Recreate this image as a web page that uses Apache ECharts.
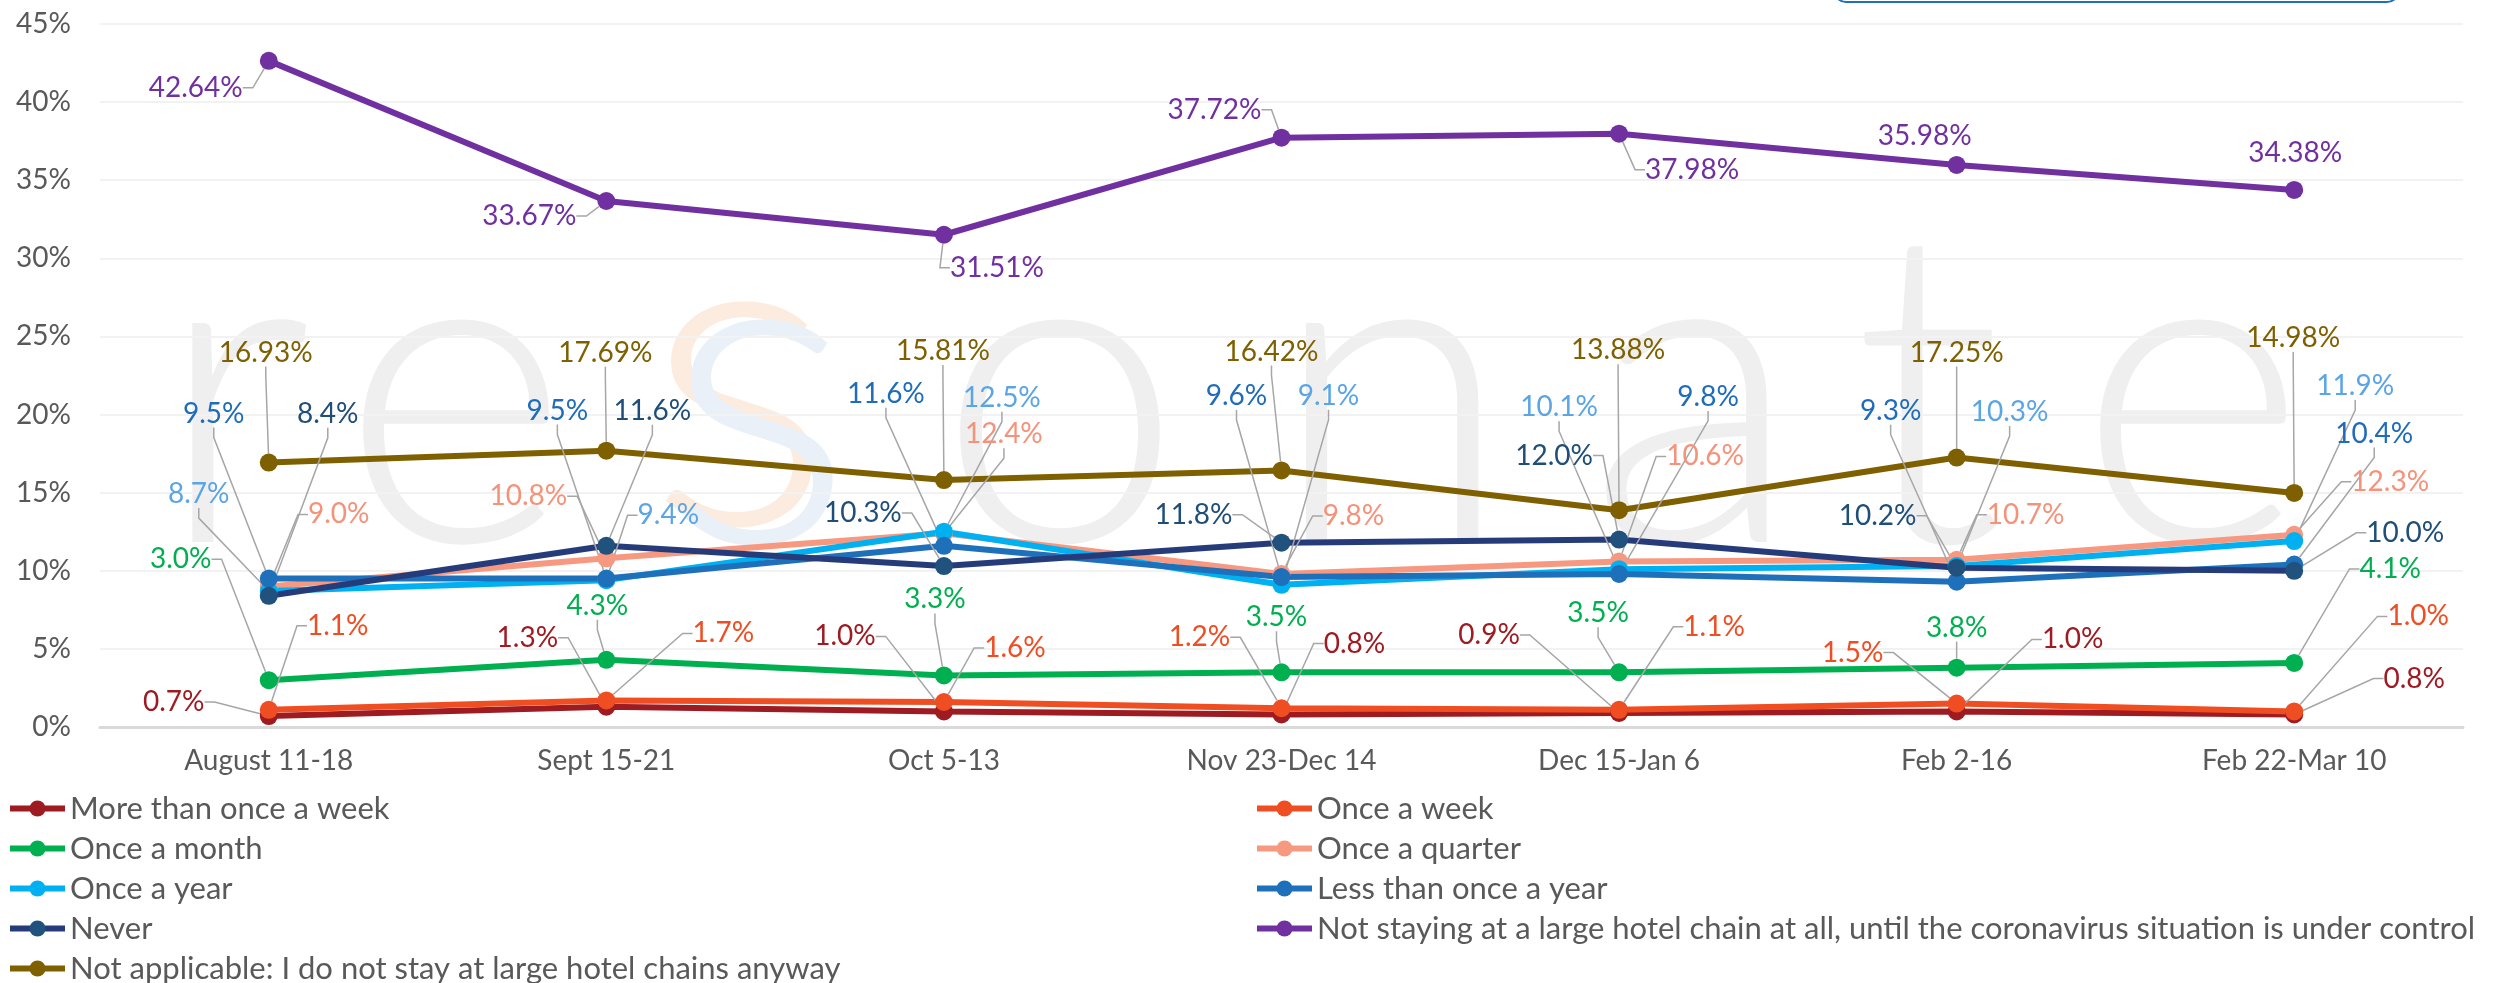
<!DOCTYPE html>
<html>
<head>
<meta charset="utf-8">
<title>Large hotel chain stays</title>
<script src="https://cdn.jsdelivr.net/npm/echarts@6/dist/echarts.min.js"></script>
<style>
    html, body { margin: 0; padding: 0; background: #fff; }
    #chart { width: 2494px; height: 983px; }
</style>
</head>
<body>
<div id="chart"></div>
<script>
// survey waves
const waves = ['August 11-18', 'Sept 15-21', 'Oct 5-13', 'Nov 23-Dec 14', 'Dec 15-Jan 6', 'Feb 2-16', 'Feb 22-Mar 10'];

// values in %
const moreThanWeekly = [0.7, 1.3, 1.0, 0.8, 0.9, 1.0, 0.8];
const weekly = [1.1, 1.7, 1.6, 1.2, 1.1, 1.5, 1.0];
const monthly = [3.0, 4.3, 3.3, 3.5, 3.5, 3.8, 4.1];
const quarterly = [9.0, 10.8, 12.4, 9.8, 10.6, 10.7, 12.3];
const yearly = [8.7, 9.4, 12.5, 9.1, 10.1, 10.3, 11.9];
const lessThanYearly = [9.5, 9.5, 11.6, 9.6, 9.8, 9.3, 10.4];
const never = [8.4, 11.6, 10.3, 11.8, 12.0, 10.2, 10.0];
const notStaying = [42.64, 33.67, 31.51, 37.72, 37.98, 35.98, 34.38];
const notApplicable = [16.93, 17.69, 15.81, 16.42, 13.88, 17.25, 14.98];

const FONT = 'Lato';

// label centre offset from each point, in px [dx, dy]
const labelOffsets = {
    moreThanWeekly: [[-95, -14], [-79, -69], [-99, -75], [73, -71], [-130, -78], [116, -72], [120, -36]],
    weekly: [[69, -84], [117, -67], [71, -54], [-82, -71], [95, -83], [-104, -51], [124, -95]],
    monthly: [[-88, -121], [-9, -54], [-9, -76], [-5, -55], [-21, -59], [0, -40], [96, -94]],
    quarterly: [[70, -72], [-78, -62], [60, -99], [72, -58], [86, -105], [69, -45], [96, -53]],
    yearly: [[-70, -97], [62, -65], [58, -134], [47, -189], [-60, -162], [53, -154], [61, -155]],
    lessThanYearly: [[-55, -165], [-49, -168], [-58, -152], [-45, -181], [89, -177], [-66, -171], [80, -131]],
    never: [[59, -182], [46, -135], [-81, -53], [-88, -28], [-65, -84], [-79, -52], [111, -38]],
    notStaying: [[-73, 27], [-77, 15], [53, 33], [-67, -28], [73, 36], [-32, -29], [1, -37]],
    notApplicable: [[-3, -110], [-1, -98], [-1, -129], [-10, -119], [-1, -160], [0, -105], [-1, -155]]
};

const seriesDefs = [
    { key: 'moreThanWeekly', name: 'More than once a week', values: moreThanWeekly, line: '#9E1B22', dot: '#9E1B22', text: '#9E1B22', digits: 1 },
    { key: 'weekly', name: 'Once a week', values: weekly, line: '#EF4E23', dot: '#EF4E23', text: '#EF4E23', digits: 1 },
    { key: 'monthly', name: 'Once a month', values: monthly, line: '#00B050', dot: '#00B050', text: '#00B050', digits: 1 },
    { key: 'quarterly', name: 'Once a quarter', values: quarterly, line: '#F79880', dot: '#F79880', text: '#F4927A', digits: 1 },
    { key: 'yearly', name: 'Once a year', values: yearly, line: '#00B0F0', dot: '#00B0F0', text: '#5BA5E5', digits: 1 },
    { key: 'lessThanYearly', name: 'Less than once a year', values: lessThanYearly, line: '#1F70BA', dot: '#1F70BA', text: '#1F6CBA', digits: 1 },
    { key: 'never', name: 'Never', values: never, line: '#263C7A', dot: '#21527D', text: '#1F4E79', digits: 1 },
    { key: 'notStaying', name: 'Not staying at a large hotel chain at all, until the coronavirus situation is under control', values: notStaying, line: '#7030A0', dot: '#7030A0', text: '#7030A0', digits: 2 },
    { key: 'notApplicable', name: 'Not applicable: I do not stay at large hotel chains anyway', values: notApplicable, line: '#7F6000', dot: '#7F6000', text: '#7F6000', digits: 2 }
];

// points whose label sits without a guide line
const noGuide = { notStaying: [5, 6] };

const leftLegend = ['More than once a week', 'Once a month', 'Once a year', 'Never', 'Not applicable: I do not stay at large hotel chains anyway'];
const rightLegend = ['Once a week', 'Once a quarter', 'Less than once a year', 'Not staying at a large hotel chain at all, until the coronavirus situation is under control'];

function buildSeries(def) {
    const offs = labelOffsets[def.key];
    const hidden = noGuide[def.key] || [];
    return {
        name: def.name,
        type: 'line',
        data: def.values.map((v, i) => hidden.indexOf(i) >= 0 ? { value: v, labelLine: { show: false } } : v),
        symbol: 'circle',
        symbolSize: 18,
        showSymbol: true,
        lineStyle: { color: def.line, width: 6 },
        itemStyle: { color: def.dot },
        label: {
            show: true,
            color: def.text,
            fontFamily: FONT,
            fontSize: 28,
            formatter: p => Number(p.value).toFixed(def.digits) + '%'
        },
        labelLine: {
            show: true,
            length2: 10,
            lineStyle: { color: '#A6A6A6', width: 1.5 }
        },
        labelLayout: function (p) {
            const o = offs[p.dataIndex];
            return {
                x: p.rect.x + p.rect.width / 2 + o[0],
                y: p.rect.y + p.rect.height / 2 + o[1],
                align: 'center',
                verticalAlign: 'middle'
            };
        }
    };
}

// watermark letters (centre x)
const markLetters = [['r', 234], ['e', 455], ['o', 1060], ['n', 1391], ['a', 1694], ['t', 1928], ['e', 2192]];

function markText(ch, cx, dy, fill) {
    return {
        type: 'text',
        z: -10,
        silent: true,
        x: cx,
        y: 400 + dy,
        style: {
            text: ch,
            fontFamily: FONT,
            fontWeight: 300,
            fontSize: 440,
            align: 'center',
            verticalAlign: 'middle',
            fill: fill
        }
    };
}

const chart = echarts.init(document.getElementById('chart'));

const legendBase = {
    orient: 'vertical',
    top: 793,
    height: 200,
    padding: 0,
    itemWidth: 55,
    itemHeight: 20,
    itemGap: 9,
    selectedMode: false,
    lineStyle: { width: 6 },
    textStyle: { fontFamily: FONT, fontSize: 31, color: '#595959' }
};

chart.setOption({
    animation: false,
    backgroundColor: '#fff',
    textStyle: { fontFamily: FONT },
    graphic: [
        ...markLetters.map(([ch, cx]) => markText(ch, cx, 0, '#EFEFEF')),
        markText('s', 740, -18, '#FCEBDF'),
        markText('s', 760, 0, '#E9F0F8'),
        {
            type: 'rect',
            silent: true,
            shape: { x: 1834, y: -50, width: 565, height: 52, r: 12 },
            style: { fill: '#fff', stroke: '#1F70BA', lineWidth: 2 }
        }
    ],
    grid: { left: 100, right: 31, top: 24, bottom: 256, outerBoundsMode: 'none' },
    legend: [
        Object.assign({}, legendBase, { left: 7, data: leftLegend }),
        Object.assign({}, legendBase, { left: 1254, data: rightLegend })
    ],
    xAxis: {
        type: 'category',
        data: waves,
        boundaryGap: true,
        axisTick: { show: false },
        axisLine: { lineStyle: { color: '#D9D9D9', width: 3 } },
        axisLabel: { fontFamily: FONT, fontSize: 28, color: '#595959', margin: 20 }
    },
    yAxis: {
        type: 'value',
        min: 0,
        max: 45,
        interval: 5,
        axisLine: { show: false },
        axisTick: { show: false },
        axisLabel: { formatter: '{value}%', fontFamily: FONT, fontSize: 28, color: '#595959', margin: 29 },
        splitLine: { lineStyle: { color: '#F2F2F2', width: 2 } }
    },
    series: seriesDefs.map(buildSeries)
});
</script>
</body>
</html>
